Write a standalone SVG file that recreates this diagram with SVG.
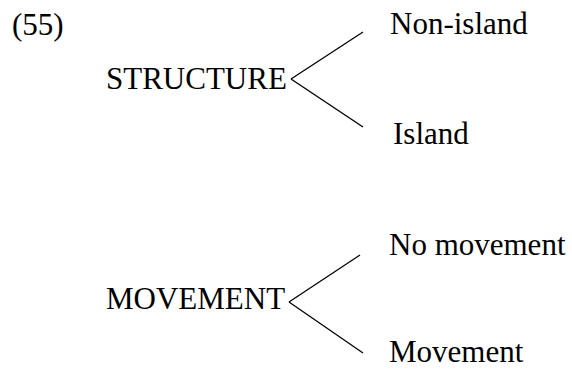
<svg xmlns="http://www.w3.org/2000/svg" width="572" height="369" viewBox="0 0 572 369">
<style>
text{font-family:"Liberation Serif","Times New Roman",serif;font-size:31px;fill:#000}
line{stroke:#000;stroke-width:1.3}
</style>
<rect width="572" height="369" fill="#fff"/>
<text id="num" x="12" y="35">(55)</text>
<g id="structure"><text x="106" y="89">STRUCTURE</text></g>
<g id="nonisland"><text x="390" y="34">Non-island</text></g>
<g id="island"><text x="393" y="144">Island</text></g>
<g id="movement"><text x="106" y="309">MOVEMENT</text></g>
<g id="nomovement"><text x="389" y="255">No movement</text></g>
<g id="movement2"><text x="389" y="362">Movement</text></g>
<g id="connectors">
<line x1="291" y1="79" x2="363" y2="32"/>
<line x1="291" y1="79" x2="363" y2="127"/>
<line x1="289" y1="302" x2="360" y2="255"/>
<line x1="289" y1="302" x2="363" y2="353"/>
</g>
</svg>
